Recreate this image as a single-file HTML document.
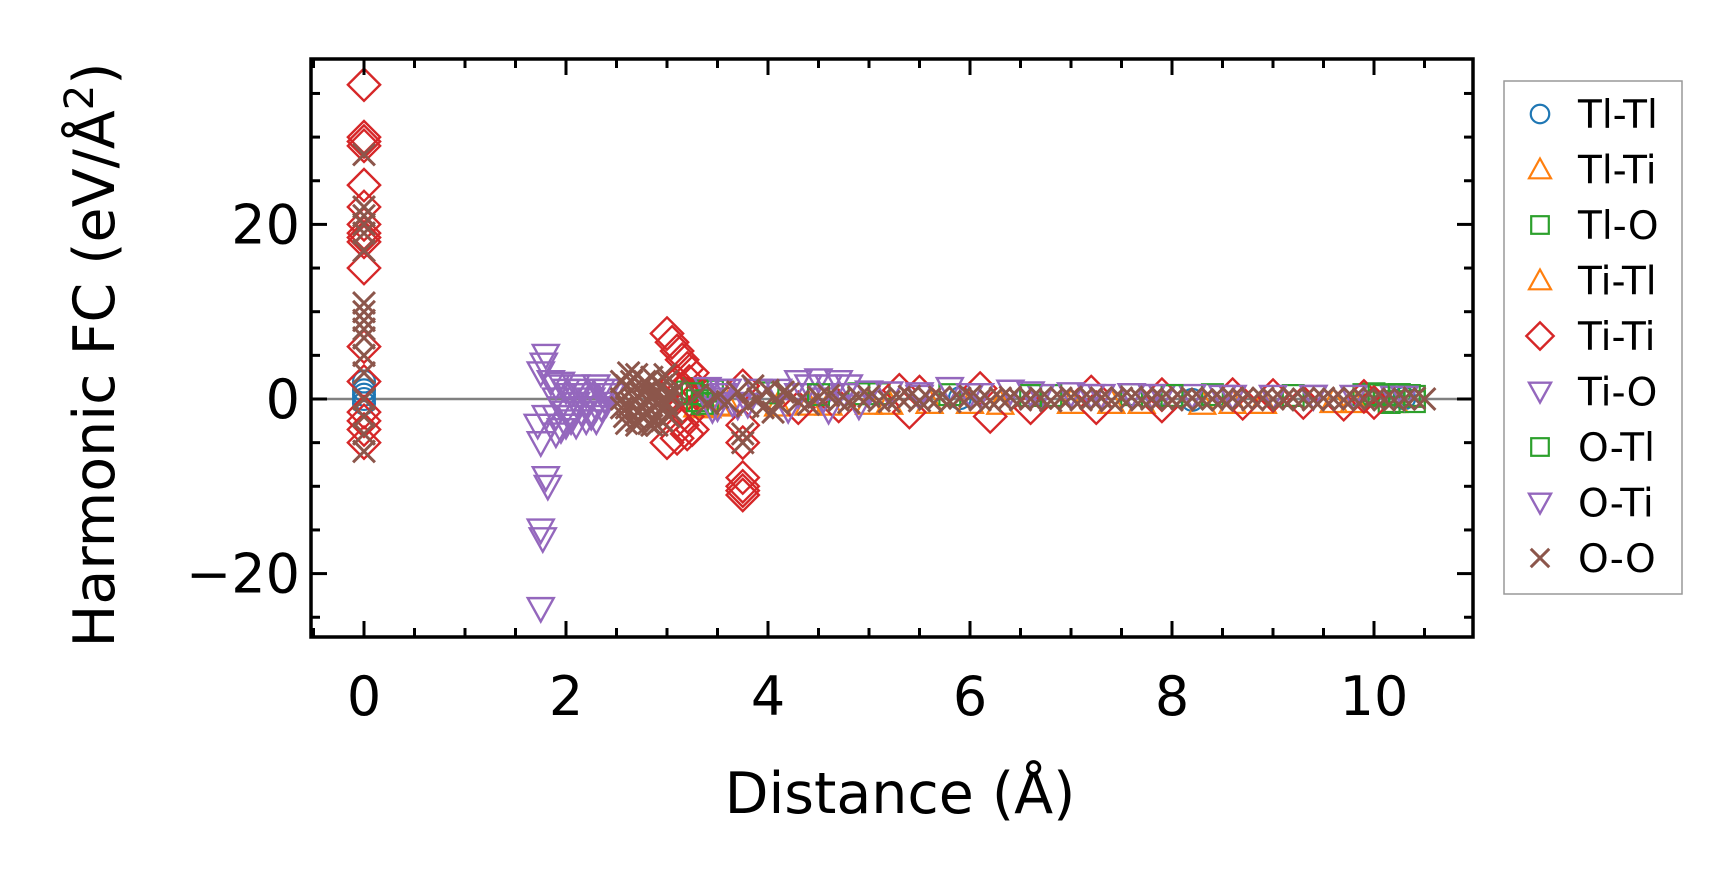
<!DOCTYPE html>
<html><head><meta charset="utf-8"><style>
body{margin:0;background:#fff}
svg{display:block}
text{font-family:"DejaVu Sans","Liberation Sans",sans-serif;fill:#000}
</style></head><body>
<svg id="chart" width="1732" height="883" viewBox="0 0 1732 883" xmlns="http://www.w3.org/2000/svg">
<g id="plot"></g>
<g id="axes"></g>
<g id="legend"></g>
</svg>
<script>
const xTicks=[0,2,4,6,8,10];
const yTicks=[-20,0,20];
const seriesNames=["Tl-Tl","Tl-Ti","Tl-O","Ti-Tl","Ti-Ti","Ti-O","O-Tl","O-Ti","O-O"];
const seriesColors=["#1f77b4","#ff7f0e","#2ca02c","#ff7f0e","#d62728","#9467bd","#2ca02c","#9467bd","#8c564b"];
const seriesMarkers=["circle","tri-up","square","tri-up","diamond","tri-down","square","tri-down","x"];
const tlTl=[[0,2],[0,1],[0,0.5],[0,-0.5],[0,0],[5.9,0.1],[8.2,-0.1],[10.3,0.1]];
const tlTi=[[3.3,-0.8],[3.4,-0.9],[3.6,-0.6],[4.1,-0.7],[4.6,-0.6],[5.0,-0.5],[5.6,-0.4],[6.3,-0.5],[7.0,-0.4],[7.7,-0.4],[8.3,-0.5],[8.9,-0.4],[9.6,-0.3],[10.2,-0.3]];
const tlO=[[3.2,0.8],[3.25,1.2],[3.3,1.0],[3.35,0.4],[3.4,-0.6],[3.45,0.9],[4.0,0.7],[4.9,0.6],[5.1,0.6],[5.8,0.5],[6.8,0.4],[7.6,0.5],[8.4,0.5],[9.2,0.4],[9.9,0.5],[10.0,0.6],[10.1,0.4],[10.15,-0.4],[10.2,-0.3],[10.25,0.5],[10.35,0.4],[10.4,-0.3]];
const tiTl=[[3.5,-0.7],[4.4,-0.6],[5.2,-0.5],[6.0,-0.4],[7.4,-0.4],[8.6,-0.4],[9.8,-0.3]];
const tiTi=[[0,36],[0,30],[0,29.5],[0,29],[0,24.5],[0,22],[0,20],[0,19],[0,18.5],[0,18],[0,15],[0,6],[0,2],[0,-1.5],[0,-2.5],[0,-3.5],[0,-5],
[3.0,7.5],[3.05,6.5],[3.1,5.5],[3.15,4.5],[3.2,3.5],[3.25,3],[3.1,2],[3.15,1],[3.2,0.5],[3.15,-1],[3.2,-2],[3.15,-3],[3.2,-4],[3.1,-4.5],[3.0,-5],[3.25,-3.5],[3.1,-2.5],[3.22,2],
[3.75,-9],[3.75,-10],[3.75,-10.5],[3.75,-11],[3.75,-3],[3.75,-5],[3.75,1.5],
[4.3,-1],[4.7,-0.8],[5.3,1],[5.4,-1.5],[5.5,0.8],[6.1,1.2],[6.2,-2],[6.6,-1],[7.2,0.8],[7.25,-1],[7.9,0.5],[7.9,-0.8],[8.6,0.5],[8.7,-0.5],[9.0,0.4],[9.3,-0.4],[9.7,-0.6],[9.9,0.3],[10.0,-0.4]];
const tiO=[[1.75,-24],[1.75,-15],[1.77,-16],[1.82,-10],[1.8,-9],[1.75,-5],[1.72,-3],[1.78,4],[1.8,5],[1.75,3],[1.85,2],
[1.9,1.5],[1.95,-1],[2.0,1],[2.05,-2],[2.1,1.5],[2.15,-1.5],[2.2,0.5],[2.25,-2],[2.3,1.5],[2.35,-1],[2.4,1],[1.85,-3],[1.95,-3.5],[2.05,-2.5],
[1.9,0],[1.95,1.8],[2.0,-1.5],[2.05,0.5],[2.1,-0.5],[2.15,1],[2.2,-2.5],[2.25,0],[2.3,-1],[2.35,1],[2.4,-0.5],[2.45,0.5],[2.0,-3],[2.1,-3],[2.2,-1],[1.9,-2],
[3.4,1.2],[3.45,0],[3.5,-1],[3.55,0.5],[3.6,1],[3.65,-0.5],[3.7,-0.8],[3.9,1],[4.2,-1.2],[4.3,0.5],[4.4,1.5],[4.5,2.2],[4.55,0],[4.6,-1.3],[4.7,2],[4.75,0.5],[4.8,1.5],[4.9,-0.8],[5.2,0.7],[5.5,0.3],[5.8,1.2],[6.1,0.5],[6.4,0.9],[6.7,0.4],[7.0,0.6],[7.3,0.4],[7.6,0.5],[7.9,0.4],[8.2,0.4],[8.6,0.3],[9.0,0.3],[9.4,0.3],[9.8,0.3],[10.2,0.2]];
const oTl=[[3.25,0.6],[3.3,-0.2],[3.35,-0.5],[4.5,0.5],[6.6,0.4],[8.0,0.4],[10.05,0.5],[10.25,0.5],[10.4,0.3]];
const oTi=[[1.8,-2],[1.9,-4],[2.0,-3],[2.1,0.5],[2.2,-1],[2.3,-2.5],[2.4,0.5],[3.45,-1.2],[3.55,1],[3.8,-0.6],[4.1,1],[4.3,2],[4.6,1.5],[5.0,0.8],[5.5,0.6],[6.0,0.5],[6.6,0.7],[7.2,0.4],[7.8,0.4],[8.5,0.3],[9.4,0.3],[10.3,0.2]];
const oO=[[0,28],[0,22],[0,21],[0,20],[0,19],[0,17],[0,11],[0,10],[0,9],[0,8],[0,7],[0,5],[0,3],[0,0],[0,-2],[0,-4],[0,-6],
[2.55,2],[2.6,-1],[2.65,1],[2.7,-2.5],[2.75,0.5],[2.8,-1.5],[2.85,2.5],[2.9,-2],[2.95,1.5],[3.0,-0.5],[2.6,-2.8],[2.7,2.8],[2.8,0],[2.9,1],[3.0,2],[2.65,-0.5],[2.75,-1],[2.85,-3],[2.95,-1],[3.05,0.5],
[2.55,0],[2.58,-2],[2.62,3],[2.68,0],[2.72,-1.5],[2.78,2],[2.82,-2.8],[2.88,0.5],[2.92,-0.5],[2.98,2.8],[3.02,-2],[3.08,1],[2.6,1.5],[2.7,-3],[2.8,1],[2.9,-3],[3.0,0.5],[2.55,-1],[2.65,2],[2.75,-2],[2.85,0],[2.95,-2.5],[3.05,-1.5],
[3.3,0.5],[3.4,-0.5],[3.5,0.2],[3.6,-0.3],[3.7,0.8],[3.75,-4],[3.75,-5],[3.8,-0.8],[3.85,1.5],[3.9,0],[3.95,-1],[4.0,1],[4.05,-1.5],[4.1,-0.5],[4.15,0.8],[4.2,0.6],[4.3,-0.3],[4.4,-0.6],[4.5,0.2],[4.6,0.4],[4.7,-0.2],[4.8,-0.4],[4.9,0.2],[5.0,0.3],[5.1,-0.2],[5.2,-0.3],[5.3,0.2],[5.4,0.3],[5.5,-0.2],[5.6,0],[5.7,0.2],[5.8,-0.3],[5.9,0.1],[6.0,0.3],[6.1,-0.1],[6.2,-0.2],[6.3,0.1],[6.4,0.2],[6.5,-0.1],[6.6,0],[6.7,0.1],[6.8,-0.2],[6.9,0.1],[7.0,0.2],[7.1,-0.1],[7.2,0],[7.3,0.1],[7.4,-0.2],[7.5,0.1],[7.6,0.2],[7.7,-0.1],[7.8,0],[7.9,0.1],[8.0,-0.1],[8.1,0],[8.2,0.1],[8.3,-0.1],[8.4,0],[8.5,-0.1],[8.6,0.1],[8.7,0],[8.8,-0.1],[8.9,0.1],[9.0,0],[9.1,-0.1],[9.2,0.1],[9.3,0],[9.4,-0.1],[9.5,0.1],[9.6,0],[9.7,-0.1],[9.8,0.1],[9.9,0],[10.0,0],[10.1,-0.1],[10.2,-0.1],[10.3,0],[10.4,0.1],[10.5,0]];
const allSeries=[tlTl,tlTi,tlO,tiTl,tiTi,tiO,oTl,oTi,oO];

const L=311,R=1473,T=59,B=637;
const X0=364,XS=101;
const Y0=399,YS=8.73;
const sx=v=>X0+v*XS;
const sy=v=>Y0-v*YS;
const NS="http://www.w3.org/2000/svg";
function mk(tag,attrs,parent){const e=document.createElementNS(NS,tag);for(const k in attrs)e.setAttribute(k,attrs[k]);parent.appendChild(e);return e;}
function marker(type,cx,cy,color,parent,s){
  let e;
  if(type==="circle"){e=mk("circle",{cx:cx,cy:cy,r:s*0.42,fill:"none",stroke:color,"stroke-width":2.2},parent);}
  else if(type==="square"){e=mk("rect",{x:cx-s*0.4,y:cy-s*0.4,width:s*0.8,height:s*0.8,fill:"none",stroke:color,"stroke-width":2.2},parent);}
  else if(type==="diamond"){const h=s*0.62;e=mk("polygon",{points:`${cx},${cy-h} ${cx+h},${cy} ${cx},${cy+h} ${cx-h},${cy}`,fill:"none",stroke:color,"stroke-width":2.4},parent);}
  else if(type==="tri-up"){const h=s*0.5;e=mk("polygon",{points:`${cx},${cy-h} ${cx+h},${cy+h*0.8} ${cx-h},${cy+h*0.8}`,fill:"none",stroke:color,"stroke-width":2.2},parent);}
  else if(type==="tri-down"){const h=s*0.5;e=mk("polygon",{points:`${cx},${cy+h} ${cx+h},${cy-h*0.8} ${cx-h},${cy-h*0.8}`,fill:"none",stroke:color,"stroke-width":2.4},parent);}
  else {const h=s*0.42;e=mk("path",{d:`M${cx-h},${cy-h}L${cx+h},${cy+h}M${cx-h},${cy+h}L${cx+h},${cy-h}`,fill:"none",stroke:color,"stroke-width":3},parent);}
  return e;
}
const plot=document.getElementById("plot");
const zl=mk("line",{x1:L,x2:R,y1:sy(0),y2:sy(0),stroke:"#808080","stroke-width":2.5},plot);


allSeries.forEach((pts,si)=>{
  const g=mk("g",{},plot);
  
  
  pts.forEach(p=>{
    const m=marker(seriesMarkers[si],sx(p[0]),sy(p[1]),seriesColors[si],g,26);
    
    
  });
});
const axes=document.getElementById("axes");
const frame=mk("rect",{x:L,y:T,width:R-L,height:B-T,fill:"none",stroke:"#000","stroke-width":3.5},axes);


for(let v=-0.5;v<=11;v+=0.5){const x=sx(v);if(x<L||x>R)continue;const major=Math.abs(v-Math.round(v/2)*2)<1e-6;const len=major?16:9;
  mk("line",{x1:x,x2:x,y1:B,y2:B-len,stroke:"#000","stroke-width":3},axes);
  mk("line",{x1:x,x2:x,y1:T,y2:T+len,stroke:"#000","stroke-width":3},axes);}
for(let v=-25;v<=35;v+=5){const y=sy(v);if(y<T||y>B)continue;const major=v%20===0;const len=major?16:9;
  mk("line",{x1:L,x2:L+len,y1:y,y2:y,stroke:"#000","stroke-width":3},axes);
  mk("line",{x1:R,x2:R-len,y1:y,y2:y,stroke:"#000","stroke-width":3},axes);}
xTicks.forEach(v=>{const t=mk("text",{x:sx(v),y:715,"text-anchor":"middle","font-size":54},axes);t.textContent=String(v);
  
  });
yTicks.forEach(v=>{const t=mk("text",{x:300,y:sy(v)+19,"text-anchor":"end","font-size":54},axes);t.textContent=v<0?"\u2212"+Math.abs(v):String(v);
  
  });
const xt=mk("text",{x:900,y:813,"text-anchor":"middle","font-size":57},axes);xt.textContent="Distance (Å)";


const yt=mk("text",{x:0,y:0,"text-anchor":"middle","font-size":57,transform:"translate(114,355) rotate(-90)"},axes);
yt.innerHTML='Harmonic FC (eV/Å<tspan font-size="40" dy="-21">2</tspan><tspan dy="21">)</tspan>';


const lg=document.getElementById("legend");
const box=mk("rect",{x:1504,y:81,width:178,height:513,fill:"#fff",stroke:"#999","stroke-width":1.5},lg);


seriesNames.forEach((n,i)=>{const y=114+i*55.5;
  const g=mk("g",{},lg);
  
  
  marker(seriesMarkers[i],1540,y,seriesColors[i],g,22);
  const t=mk("text",{x:1578,y:y+14,"font-size":39},g);t.textContent=n;});
</script>
</body></html>
